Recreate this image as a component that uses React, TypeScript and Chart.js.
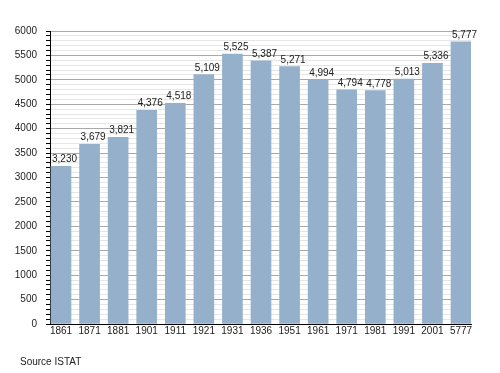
import React, { useEffect, useRef } from "react";
import { Chart, registerables } from "chart.js";

Chart.register(...registerables);

const categories = ["1861", "1871", "1881", "1901", "1911", "1921", "1931", "1936", "1951", "1961", "1971", "1981", "1991", "2001", "5777"];
const population = [3230, 3679, 3821, 4376, 4518, 5109, 5525, 5387, 5271, 4994, 4794, 4778, 5013, 5336, 5777];
const yMax = 6000;
const yMajorStep = 500;
const yMinorStep = 100;
const sourceText = "Source ISTAT";

const FONT = "'Liberation Sans', Arial, Helvetica, sans-serif";

const valueLabels = {
  id: "valueLabels",
  afterDatasetsDraw(chart: any) {
    const ctx = chart.ctx;
    const meta = chart.getDatasetMeta(0);
    ctx.save();
    ctx.font = `10px ${FONT}`;
    ctx.fillStyle = "#222";
    ctx.textAlign = "left";
    ctx.textBaseline = "alphabetic";
    meta.data.forEach((bar: any, i: number) => {
      const txt = population[i].toLocaleString("en-US");
      ctx.fillText(txt, bar.x - bar.width / 2 + 1, bar.y - 4);
    });
    ctx.restore();
  },
};

export default function App() {
  const ref = useRef<HTMLCanvasElement>(null);
  useEffect(() => {
    document.body.style.margin = "0";
    const canvas = ref.current!;
    const chart = new Chart(canvas, {
      type: "bar",
      data: {
        datasets: [
          {
            data: population.map((v, i) => ({ x: i, y: v })),
            backgroundColor: "#94b0cb",
            borderWidth: 0,
            barThickness: 20,
          },
        ],
      },
      options: {
        animation: false,
        responsive: false,
        layout: { padding: { top: 31, right: 29, left: 0, bottom: 0 } },
        plugins: { legend: { display: false }, tooltip: { enabled: false } },
        scales: {
          x: {
            type: "linear",
            offset: false,
            min: -0.385,
            max: 14.35,
            grid: { display: false, drawTicks: false, tickLength: 0 },
            border: { display: true, color: "#000", width: 1 },
            afterBuildTicks: (axis: any) => {
              axis.ticks = categories.map((_, i) => ({ value: i }));
            },
            afterFit: (s: any) => {
              s.height = 49;
            },
            ticks: {
              autoSkip: false,
              maxRotation: 0,
              padding: 1,
              color: "#222",
              font: { family: FONT, size: 10 },
              callback: (v: any) => categories[v as number] ?? "",
            },
          },
          y: {
            type: "linear",
            min: 0,
            max: yMax,
            border: { display: true, color: "#000", width: 1 },
            afterFit: (s: any) => {
              s.width = 50;
            },
            grid: {
              color: (c: any) => (c.tick && c.tick.value % yMajorStep === 0 ? "#a9a9a9" : "#e6e6e6"),
              tickColor: "#000",
              tickLength: 4,
              lineWidth: 1,
            },
            ticks: {
              stepSize: yMinorStep,
              maxTicksLimit: 1000,
              autoSkip: false,
              padding: 9,
              color: "#222",
              font: { family: FONT, size: 10 },
              callback: (v: any) => ((v as number) % yMajorStep === 0 ? String(v) : ""),
            },
          },
        },
      },
      plugins: [valueLabels],
    });
    return () => chart.destroy();
  }, []);
  return (
    <div style={{ position: "relative", width: 500, height: 373, background: "#fff" }}>
      <canvas ref={ref} width={500} height={373} />
      <div
        style={{
          position: "absolute",
          left: 20,
          top: 355,
          font: `10px ${FONT}`,
          color: "#222",
          lineHeight: "14px",
        }}
      >
        {sourceText}
      </div>
    </div>
  );
}
